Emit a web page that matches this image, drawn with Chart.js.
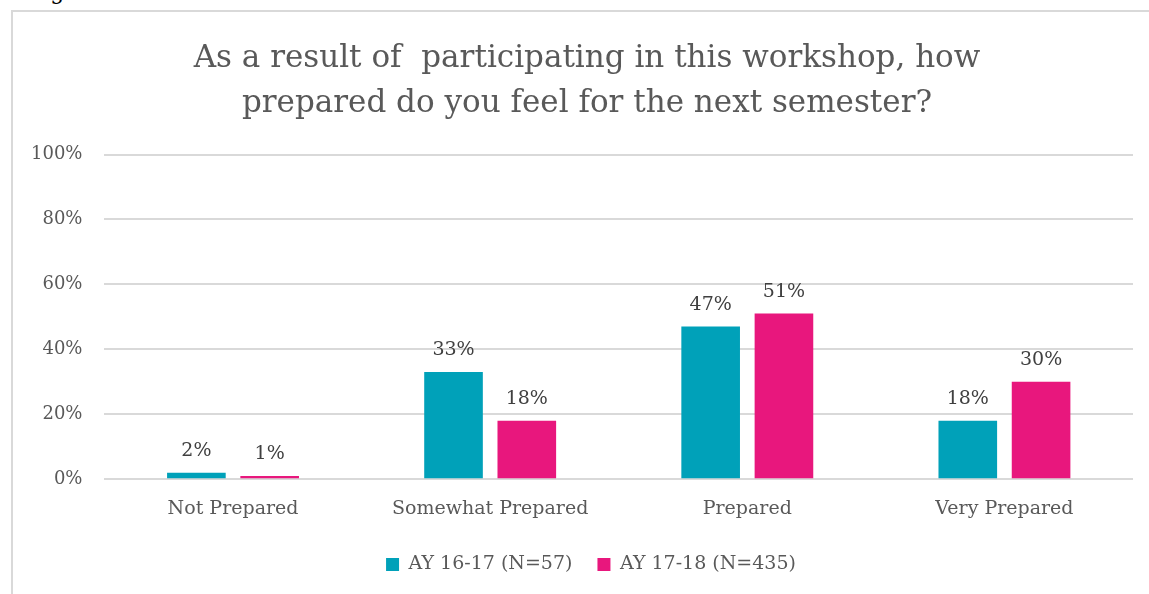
<!DOCTYPE html>
<html>
<head>
<meta charset="utf-8">
<script src="https://cdn.jsdelivr.net/npm/chart.js@4/dist/chart.umd.min.js"></script>
<style>
  html, body { margin: 0; padding: 0; background: #fff; overflow: hidden; }
  #wrap { position: relative; width: 1149px; height: 594px; }
  #fig { position: absolute; left: 28px; top: -21px; font: 22px "DejaVu Serif", serif; color: #000; }
  #frame { position: absolute; left: 11px; top: 10px; width: 1160px; height: 600px; border: 2px solid #d9d9d9; box-sizing: border-box; }
  canvas { position: absolute; left: 0; top: 0; }
</style>
</head>
<body>
<div id="wrap">
  <div id="fig">Fig. 3</div>
  <div id="frame"></div>
  <canvas id="myChart" width="1149" height="594"></canvas>
</div>
<script>
// datos del grafico
const categorias = ["Not Prepared", "Somewhat Prepared", "Prepared", "Very Prepared"];
const serie1617 = [2, 33, 47, 18];
const serie1718 = [1, 18, 51, 30];
const nombreSeries = ["AY 16-17 (N=57)", "AY 17-18 (N=435)"];
const tituloLineas = ["As a result of  participating in this workshop, how", "prepared do you feel for the next semester?"];

const fuente = "'DejaVu Serif', serif";

// plugin simple para escribir el valor encima de cada barra
const etiquetas = {
  id: "etiquetas",
  afterDatasetsDraw(chart) {
    const ctx = chart.ctx;
    ctx.save();
    ctx.font = "19px " + fuente;
    ctx.fillStyle = "#404040";
    ctx.textAlign = "center";
    ctx.textBaseline = "bottom";
    chart.data.datasets.forEach((ds, i) => {
      chart.getDatasetMeta(i).data.forEach((bar, j) => {
        ctx.fillText(ds.data[j] + "%", bar.x, bar.y - 12);
      });
    });
    ctx.restore();
  }
};

// el titulo y la leyenda van centrados en el marco, no en todo el canvas
const centrarEnMarco = {
  id: "centrarEnMarco",
  afterLayout(chart) {
    if (chart.titleBlock) chart.titleBlock.left += 32;
    if (chart.legend) chart.legend.left += 40;
  }
};

const config = {
  type: "bar",
  data: {
    labels: categorias,
    datasets: [
      {
        label: nombreSeries[0],
        data: serie1617,
        backgroundColor: "#00A1B9",
        categoryPercentage: 0.57,
        barPercentage: 0.8
      },
      {
        label: nombreSeries[1],
        data: serie1718,
        backgroundColor: "#E8177D",
        categoryPercentage: 0.57,
        barPercentage: 0.8
      }
    ]
  },
  options: {
    responsive: false,
    animation: false,
    layout: { padding: { left: 9, right: 16, top: 36, bottom: 10 } },
    plugins: {
      title: {
        display: true,
        text: tituloLineas,
        color: "#595959",
        font: { family: fuente, size: 31, weight: "normal", lineHeight: 1.46 },
        padding: { top: 0, bottom: 28 }
      },
      legend: {
        position: "bottom",
        labels: {
          color: "#595959",
          font: { family: fuente, size: 19 },
          boxWidth: 13,
          boxHeight: 13,
          padding: 25
        }
      },
      tooltip: { enabled: false }
    },
    scales: {
      x: {
        grid: { display: false },
        border: { display: false },
        ticks: { color: "#595959", font: { family: fuente, size: 19 }, padding: 10 }
      },
      y: {
        min: 0,
        max: 100,
        ticks: {
          stepSize: 20,
          color: "#595959",
          font: { family: fuente, size: 18 },
          padding: 22,
          callback: (v) => v + "%"
        },
        grid: { color: "#d9d9d9", lineWidth: 2, drawTicks: false },
        border: { display: false }
      }
    }
  },
  plugins: [etiquetas, centrarEnMarco]
};

new Chart(document.getElementById("myChart").getContext("2d"), config);
</script>
</body>
</html>
